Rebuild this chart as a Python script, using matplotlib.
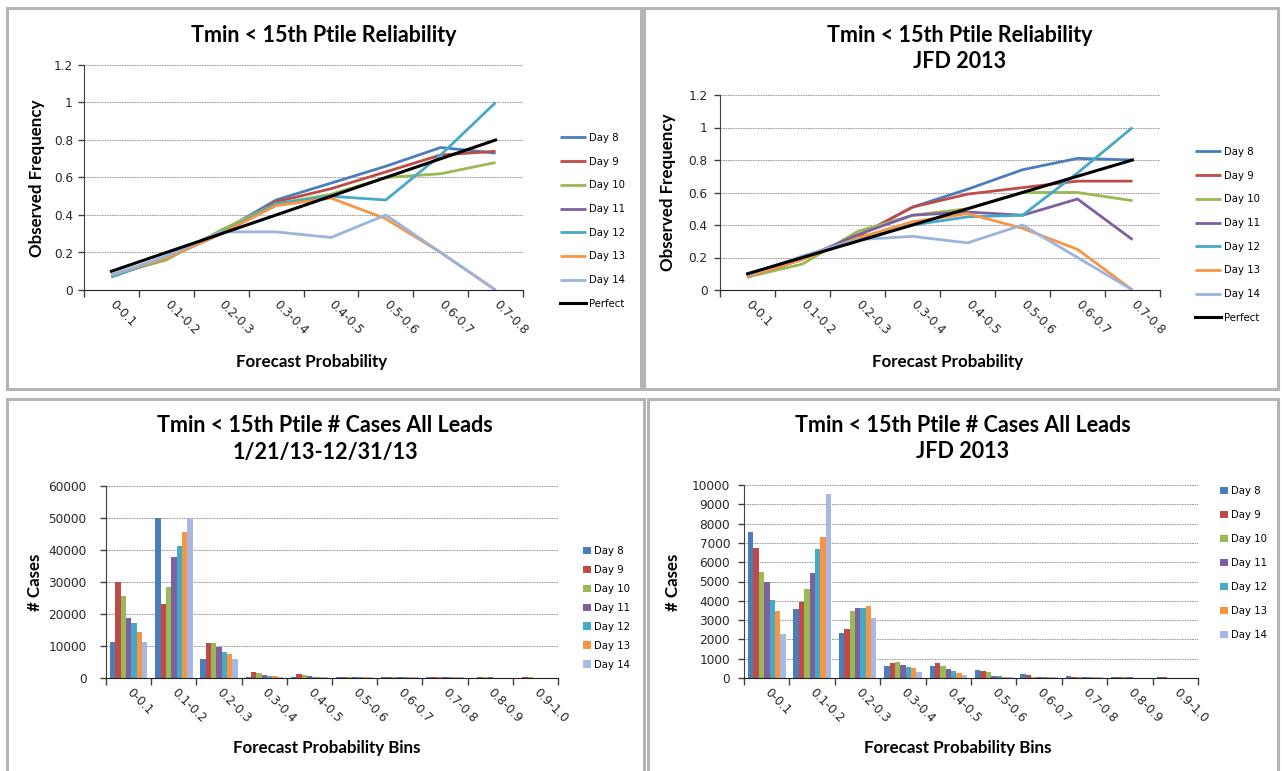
import numpy as np
import matplotlib.pyplot as plt
from matplotlib.patches import Rectangle

# Reliability data (observed frequency per forecast probability bin)
rel_bins = ['0-0.1', '0.1-0.2', '0.2-0.3', '0.3-0.4', '0.4-0.5', '0.5-0.6', '0.6-0.7', '0.7-0.8']
days = ['Day 8', 'Day 9', 'Day 10', 'Day 11', 'Day 12', 'Day 13', 'Day 14']
perfect = [0.1, 0.2, 0.3, 0.4, 0.5, 0.6, 0.7, 0.8]

nan = np.nan
rel_all = [
    [0.07, 0.18, 0.31, 0.48, 0.57, 0.66, 0.76, 0.73],  # Day 8
    [0.08, 0.17, 0.30, 0.47, 0.54, 0.63, 0.72, 0.74],  # Day 9
    [0.08, 0.16, 0.32, 0.46, 0.51, 0.60, 0.62, 0.68],  # Day 10
    [nan, nan, nan, nan, nan, nan, nan, nan],          # Day 11 (no data)
    [0.07, 0.17, 0.30, 0.46, 0.50, 0.48, 0.72, 1.00],  # Day 12
    [0.08, 0.17, 0.30, 0.45, 0.49, 0.38, 0.20, 0.00],  # Day 13
    [0.08, 0.18, 0.31, 0.31, 0.28, 0.40, 0.20, 0.00],  # Day 14
]
rel_jfd = [
    [0.08, 0.20, 0.33, 0.51, 0.62, 0.74, 0.81, 0.80],
    [0.08, 0.19, 0.33, 0.51, 0.59, 0.63, 0.67, 0.67],
    [0.08, 0.16, 0.36, 0.46, 0.50, 0.60, 0.60, 0.55],
    [0.08, 0.19, 0.34, 0.46, 0.48, 0.46, 0.56, 0.31],
    [0.08, 0.20, 0.31, 0.40, 0.45, 0.46, 0.72, 1.00],
    [0.08, 0.19, 0.32, 0.42, 0.47, 0.38, 0.25, 0.00],
    [0.09, 0.21, 0.31, 0.33, 0.29, 0.40, 0.20, 0.00],
]

# Number of cases per bin
case_bins = ['0-0.1', '0.1-0.2', '0.2-0.3', '0.3-0.4', '0.4-0.5', '0.5-0.6',
             '0.6-0.7', '0.7-0.8', '0.8-0.9', '0.9-1.0']
cases_all = [
    [11200, 50100, 5900, 300, 300, 250, 250, 250, 150, 0],
    [29900, 23000, 10900, 2000, 1350, 250, 250, 250, 250, 200],
    [25500, 28500, 10900, 1650, 1000, 250, 250, 250, 250, 200],
    [18800, 37800, 9700, 1000, 700, 250, 250, 250, 200, 0],
    [17200, 41400, 8100, 600, 400, 250, 250, 250, 0, 0],
    [14300, 45500, 7600, 600, 400, 250, 250, 250, 0, 0],
    [11200, 50100, 5900, 400, 300, 250, 200, 200, 0, 0],
]
cases_jfd = [
    [7550, 3570, 2310, 640, 640, 430, 220, 120, 50, 40],
    [6720, 3930, 2550, 790, 790, 380, 170, 60, 50, 50],
    [5480, 4600, 3470, 845, 620, 290, 60, 50, 50, 0],
    [4980, 5450, 3640, 690, 480, 120, 50, 50, 50, 0],
    [4020, 6670, 3640, 590, 380, 120, 50, 50, 0, 0],
    [3480, 7330, 3740, 520, 280, 70, 50, 50, 0, 0],
    [2280, 9530, 3120, 330, 170, 60, 40, 40, 0, 0],
]

line_colors = ['#4A7EBB', '#BE4B48', '#98B954', '#7D60A0', '#46AAC5', '#F69544', '#9BB4DC']
bar_colors = ['#4A7EBB', '#BE4B48', '#98B954', '#7D60A0', '#46AAC5', '#F69544', '#A7B9E3']

W, H = 1282, 771
fig = plt.figure(figsize=(W / 100, H / 100), dpi=100)

lbl_font = dict(family='Lato', fontweight='bold')
tick_font = dict(family='DejaVu Sans', size=8.7, color='#262626')


def px_axes(left, top, right, bottom):
    return fig.add_axes([left / W, 1 - bottom / H, (right - left) / W, (bottom - top) / H])


def fig_text(x, y, s, size, rotation=0):
    fig.text(x / W, 1 - y / H, s, ha='center', va='center', fontsize=size,
             rotation=rotation, **lbl_font)


def style_axes(ax, labels, ymax, ystep, fmt, ypad):
    n = len(labels)
    ax.set_xlim(0, n)
    ax.set_ylim(0, ymax)
    ax.set_xticks(np.arange(n + 1))
    ax.set_xticklabels([])
    ax.set_xticks(np.arange(n) + 0.5, minor=True)
    ax.set_xticklabels(labels, minor=True, rotation=-45, ha='left', va='center',
                       rotation_mode='anchor', **tick_font)
    ax.tick_params(axis='x', which='major', direction='out', length=5, width=1, color='#404040')
    ax.tick_params(axis='x', which='minor', length=0, pad=9)
    yt = np.arange(0, ymax + ystep / 2, ystep)
    ax.set_yticks(yt)
    ax.set_yticklabels([fmt(v) for v in yt], **tick_font)
    ax.tick_params(axis='y', direction='out', length=4, width=1, color='#404040', pad=ypad)
    ax.grid(axis='y', color='#8C8C8C', linestyle=(0, (2, 1)), linewidth=0.6)
    ax.set_axisbelow(True)
    for side in ['top', 'right']:
        ax.spines[side].set_visible(False)
    ax.spines['left'].set_color('#404040')
    ax.spines['bottom'].set_color('#202020')
    ax.patch.set_alpha(0)


def add_legend(ax, handles, x, y, spacing, bars=False):
    kw = dict(handlelength=0.75, handleheight=0.75) if bars else dict(handlelength=2.6)
    ax.legend(handles=handles, labels=[h.get_label() for h in handles],
              loc='upper left', bbox_to_anchor=(x / W, 1 - y / H),
              bbox_transform=fig.transFigure, frameon=False, borderpad=0,
              borderaxespad=0, handletextpad=0.3, labelspacing=spacing,
              prop={'family': 'DejaVu Sans', 'size': 7.3}, **kw)


# panel borders
for (l, t, r, b) in [(7, 8, 641, 389), (644, 8, 1278, 389), (7, 399, 644, 780), (648, 399, 1278, 780)]:
    fig.add_artist(Rectangle((l / W, 1 - b / H), (r - l) / W, (b - t) / H,
                             transform=fig.transFigure, fill=False,
                             edgecolor='#B4B4B4', linewidth=2.2))

# reliability panels
rel_panels = [
    (rel_all, (84, 65, 523, 290), (560, 133), 4),
    (rel_jfd, (720, 95, 1160, 290), (1195, 147), 5),
]
x = np.arange(len(rel_bins)) + 0.5
for data, box, leg, ypad in rel_panels:
    ax = px_axes(*box)
    handles = []
    for name, vals, c in zip(days, data, line_colors):
        h, = ax.plot(x, vals, color=c, linewidth=2.0, label=name, solid_capstyle='butt')
        handles.append(h)
    h, = ax.plot(x, perfect, color='black', linewidth=2.2, label='Perfect')
    handles.append(h)
    style_axes(ax, rel_bins, 1.2, 0.2,
               lambda v: '0' if v == 0 else ('1' if abs(v - 1) < 1e-9 else f'{v:.1f}'), ypad)
    add_legend(ax, handles, leg[0], leg[1], 1.35)

fig_text(324, 35, 'Tmin < 15th Ptile Reliability', 15.5)
fig_text(960, 35, 'Tmin < 15th Ptile Reliability', 15.5)
fig_text(960, 61, 'JFD 2013', 15.5)
fig_text(312, 362, 'Forecast Probability', 12.2)
fig_text(948, 362, 'Forecast Probability', 12.2)
fig_text(37, 178, 'Observed Frequency', 12.2, rotation=90)
fig_text(668, 192, 'Observed Frequency', 12.2, rotation=90)

# case count panels
case_panels = [
    (cases_all, (106, 486, 558, 678), 60000, 10000, (583, 546), 0.88, 10),
    (cases_jfd, (744, 485, 1198, 678), 10000, 1000, (1220, 486), 1.38, 6),
]
bw = 0.118
for data, box, ymax, ystep, leg, spacing, ypad in case_panels:
    ax = px_axes(*box)
    handles = []
    for i, (name, vals, c) in enumerate(zip(days, data, bar_colors)):
        xs = np.arange(len(case_bins)) + 0.09 + bw * (i + 0.5)
        h = ax.bar(xs, vals, width=bw, color=c, edgecolor='none', label=name)
        handles.append(h)
    style_axes(ax, case_bins, ymax, ystep, lambda v: f'{int(v)}', ypad)
    add_legend(ax, handles, leg[0], leg[1], spacing, bars=True)

fig_text(325, 426, 'Tmin < 15th Ptile # Cases All Leads', 15.5)
fig_text(325, 452, '1/21/13-12/31/13', 15.5)
fig_text(963, 425, 'Tmin < 15th Ptile # Cases All Leads', 15.5)
fig_text(963, 452, 'JFD 2013', 15.5)
fig_text(327, 748, 'Forecast Probability Bins', 12.2)
fig_text(958, 748, 'Forecast Probability Bins', 12.2)
fig_text(35, 582, '# Cases', 12.2, rotation=90)
fig_text(673, 582, '# Cases', 12.2, rotation=90)

fig.savefig('out.png', dpi=100)
